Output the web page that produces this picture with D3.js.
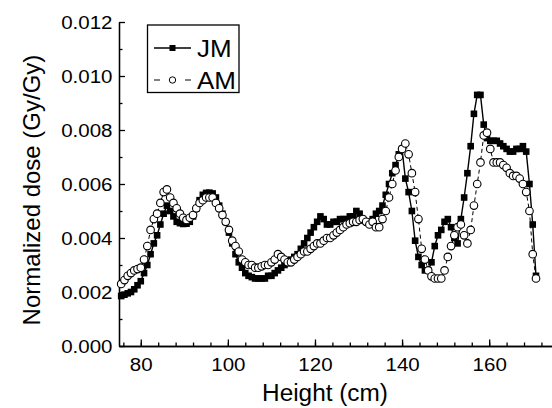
<!DOCTYPE html>
<html>
<head>
<meta charset="utf-8">
<script src="https://cdn.jsdelivr.net/npm/d3@7"></script>
<style>
  html, body { margin: 0; padding: 0; background: #fff; }
  svg { display: block; }
  text { font-family: "Liberation Sans", Arial, Helvetica, sans-serif; fill: #000; }
</style>
</head>
<body>
<svg id="chart" width="552" height="408"></svg>
<script>
// Measurement heights (cm)
const heights = [
  75.5, 76.25, 77, 77.75, 78.5, 79.25, 80, 80.75, 81.5, 82.25,
  83, 83.75, 84.5, 85.25, 86, 86.75, 87.5, 88.25, 89, 89.75,
  90.5, 91.25, 92, 92.75, 93.5, 94.25, 95, 95.75, 96.5, 97.25,
  98, 98.75, 99.5, 100.25, 101, 101.75, 102.5, 103.25, 104, 104.75,
  105.5, 106.25, 107, 107.75, 108.5, 109.25, 110, 110.75, 111.5, 112.25,
  113, 113.75, 114.5, 115.25, 116, 116.75, 117.5, 118.25, 119, 119.75,
  120.5, 121.25, 122, 122.75, 123.5, 124.25, 125, 125.75, 126.5, 127.25,
  128, 128.75, 129.5, 130.25, 131, 131.75, 132.5, 133.25, 134, 134.75,
  135.5, 136.25, 137, 137.75, 138.5, 139.25, 140, 140.75, 141.5, 142.25,
  143, 143.75, 144.5, 145.25, 146, 146.75, 147.5, 148.25, 149, 149.75,
  150.5, 151.25, 152, 152.75, 153.5, 154.25, 155, 155.75, 156.5, 157.25,
  158, 158.75, 159.5, 160.25, 161, 161.75, 162.5, 163.25, 164, 164.75,
  165.5, 166.25, 167, 167.75, 168.5, 169.25, 170, 170.75
];

// Normalized dose (Gy/Gy), JM phantom
const doseJM = [
  0.00185, 0.0019, 0.00195, 0.0020, 0.0021, 0.00225, 0.0024, 0.0027, 0.0030, 0.0034,
  0.0038, 0.0041, 0.0045, 0.0049, 0.0052, 0.0050, 0.0048, 0.0046, 0.00455, 0.00452,
  0.00453, 0.0046, 0.0048, 0.0051, 0.0054, 0.0056, 0.00567, 0.00568, 0.00565, 0.0055,
  0.0052, 0.0049, 0.0046, 0.0042, 0.0038, 0.0034, 0.0031, 0.0029, 0.0027, 0.0026,
  0.00255, 0.0025, 0.0025, 0.0025, 0.0025, 0.0026, 0.0026, 0.0027, 0.0028, 0.0029,
  0.0030, 0.0031, 0.0032, 0.0033, 0.0034, 0.0036, 0.0038, 0.0040, 0.0042, 0.0044,
  0.0046, 0.0048, 0.0047, 0.0045, 0.0045, 0.0046, 0.0046, 0.0047, 0.0047, 0.0047,
  0.0048, 0.0048, 0.0050, 0.0049, 0.0047, 0.0046, 0.0046, 0.0047, 0.0049, 0.0050,
  0.0052, 0.0056, 0.0060, 0.0064, 0.0067, 0.0071, 0.0073, 0.0062, 0.0057, 0.0050,
  0.0039, 0.0033, 0.0030, 0.0028, 0.0028, 0.0031, 0.0037, 0.0041, 0.0043, 0.0046,
  0.0047, 0.0044, 0.0040, 0.0038, 0.0047, 0.0055, 0.0064, 0.0074, 0.0086, 0.0093,
  0.0093, 0.0082, 0.0077, 0.0076, 0.0076, 0.0076, 0.0075, 0.0074, 0.0073, 0.0072,
  0.0072, 0.0073, 0.0073, 0.0074, 0.0072, 0.0060, 0.0045, 0.0026
];

// Normalized dose (Gy/Gy), AM phantom
const doseAM = [
  0.0023, 0.00244, 0.0026, 0.0027, 0.0028, 0.00285, 0.0029, 0.0032, 0.0037, 0.0043,
  0.0047, 0.0049, 0.0053, 0.0057, 0.0058, 0.0055, 0.0053, 0.0051, 0.0049, 0.00475,
  0.00467, 0.00475, 0.00485, 0.0051, 0.0053, 0.0054, 0.0055, 0.0055, 0.0055, 0.0053,
  0.0051, 0.00485, 0.0046, 0.0043, 0.0039, 0.0037, 0.0035, 0.0032, 0.0031, 0.0030,
  0.0030, 0.0029, 0.0029, 0.00295, 0.0030, 0.0030, 0.0031, 0.0032, 0.0034, 0.0033,
  0.0032, 0.0031, 0.0031, 0.0032, 0.0033, 0.0034, 0.0035, 0.0035, 0.0036, 0.0037,
  0.0038, 0.0038, 0.0039, 0.0040, 0.0040, 0.0041, 0.0042, 0.0043, 0.0044, 0.0045,
  0.00455, 0.0046, 0.0046, 0.00467, 0.0047, 0.0046, 0.0045, 0.0046, 0.0044, 0.0044,
  0.0047, 0.0050, 0.0055, 0.0060, 0.0065, 0.0070, 0.0073, 0.0075, 0.0071, 0.0064,
  0.0057, 0.0047, 0.0036, 0.0032, 0.0028, 0.00258, 0.0025, 0.0025, 0.0025, 0.0028,
  0.0033, 0.0037, 0.0041, 0.0044, 0.0045, 0.0041, 0.0038, 0.0043, 0.0052, 0.0060,
  0.0068, 0.0078, 0.0079, 0.0073, 0.0068, 0.0068, 0.0068, 0.0067, 0.0066, 0.0064,
  0.0063, 0.0063, 0.0062, 0.0060, 0.0057, 0.0050, 0.0034, 0.0025
];

const seriesNames = ["JM", "AM"];
const xTickValues = [80, 100, 120, 140, 160];
const yTickValues = [0, 0.002, 0.004, 0.006, 0.008, 0.010, 0.012];
const xTitle = "Height (cm)";
const yTitle = "Normalized dose (Gy/Gy)";

const svg = d3.select("#chart");
svg.append("rect").attr("width", 552).attr("height", 408).attr("fill", "#fff");

const x = d3.scaleLinear().domain([75, 175]).range([119, 554.5]);
const y = d3.scaleLinear().domain([0, 0.012]).range([346, 22]);

const axisStroke = 1.3;

// Bottom axis: minor ticks every 4 cm, labelled majors every 20 cm, ticks inward
const xMinor = svg.append("g").attr("transform", `translate(0,${y(0)})`)
  .call(d3.axisBottom(x).tickValues(d3.range(76, 175, 4)).tickSize(-3.5).tickSizeOuter(0).tickFormat(""));
const xMajor = svg.append("g").attr("transform", `translate(0,${y(0)})`)
  .call(d3.axisBottom(x).tickValues(xTickValues).tickSize(-6.5).tickSizeOuter(0).tickPadding(12).tickFormat(d3.format("d")));
xMajor.selectAll("text").attr("font-size", 19).attr("transform", "scale(1.08,1)");

// Left axis: minor ticks every 0.001, majors every 0.002
const yMinor = svg.append("g").attr("transform", `translate(${x(75)},0)`)
  .call(d3.axisLeft(y).tickValues(d3.range(0.001, 0.012, 0.002)).tickSize(-3.5).tickSizeOuter(0).tickFormat(""));
const yMajor = svg.append("g").attr("transform", `translate(${x(75)},0)`)
  .call(d3.axisLeft(y).tickValues(yTickValues).tickSize(-6).tickSizeOuter(0).tickPadding(6).tickFormat(d3.format(".3f")));
yMajor.selectAll("text").attr("font-size", 19).attr("transform", "scale(1.08,1)");

[xMinor, xMajor, yMinor, yMajor].forEach(g => {
  g.selectAll("path, line").attr("stroke", "#000").attr("stroke-width", axisStroke);
  g.selectAll("text").attr("fill", "#000").style("font-family", '"Liberation Sans", Arial, sans-serif');
});

// Axis titles
svg.append("text")
  .attr("transform", `translate(${(x(75) + 531) / 2},401) scale(1.06,1)`)
  .attr("text-anchor", "middle").attr("font-size", 23).text(xTitle);
svg.append("text")
  .attr("transform", `translate(40,${(y(0) + y(0.012)) / 2 + 6}) rotate(-90)`)
  .attr("text-anchor", "middle").attr("font-size", 24).text(yTitle);

// Curves
const line = vals => d3.line().x((d, i) => x(heights[i])).y(d => y(d))(vals);
const sq = 6.6;

svg.append("path").attr("d", line(doseJM))
  .attr("fill", "none").attr("stroke", "#000").attr("stroke-width", 1.4);
svg.selectAll("rect.jm").data(doseJM).join("rect").attr("class", "jm")
  .attr("x", (d, i) => x(heights[i]) - sq / 2).attr("y", d => y(d) - sq / 2)
  .attr("width", sq).attr("height", sq).attr("fill", "#000");

svg.append("path").attr("d", line(doseAM))
  .attr("fill", "none").attr("stroke", "#000").attr("stroke-width", 1)
  .attr("stroke-dasharray", "4,3");
svg.selectAll("circle.am").data(doseAM).join("circle").attr("class", "am")
  .attr("cx", (d, i) => x(heights[i])).attr("cy", d => y(d))
  .attr("r", 3.8).attr("fill", "#fff").attr("stroke", "#000").attr("stroke-width", 1.1);

// Legend
const legend = svg.append("g");
legend.append("rect").attr("x", 147.5).attr("y", 25).attr("width", 91.5).attr("height", 67.5)
  .attr("fill", "#fff").attr("stroke", "#000").attr("stroke-width", 1.3);
const rows = [{ name: seriesNames[0], cy: 48 }, { name: seriesNames[1], cy: 80 }];
legend.append("line").attr("x1", 154).attr("x2", 191).attr("y1", rows[0].cy).attr("y2", rows[0].cy)
  .attr("stroke", "#000").attr("stroke-width", 1.3);
legend.append("rect").attr("x", 169.5).attr("y", rows[0].cy - 3).attr("width", 6).attr("height", 6).attr("fill", "#000");
legend.append("line").attr("x1", 154).attr("x2", 191).attr("y1", rows[1].cy).attr("y2", rows[1].cy)
  .attr("stroke", "#000").attr("stroke-width", 1.2).attr("stroke-dasharray", "6,25");
legend.append("circle").attr("cx", 172.5).attr("cy", rows[1].cy).attr("r", 3.2)
  .attr("fill", "#fff").attr("stroke", "#000").attr("stroke-width", 1);
rows.forEach(r => {
  legend.append("text").attr("transform", `translate(197,${r.cy + 9}) scale(1.06,1)`)
    .attr("font-size", 24.5).text(r.name);
});
</script>
</body>
</html>
